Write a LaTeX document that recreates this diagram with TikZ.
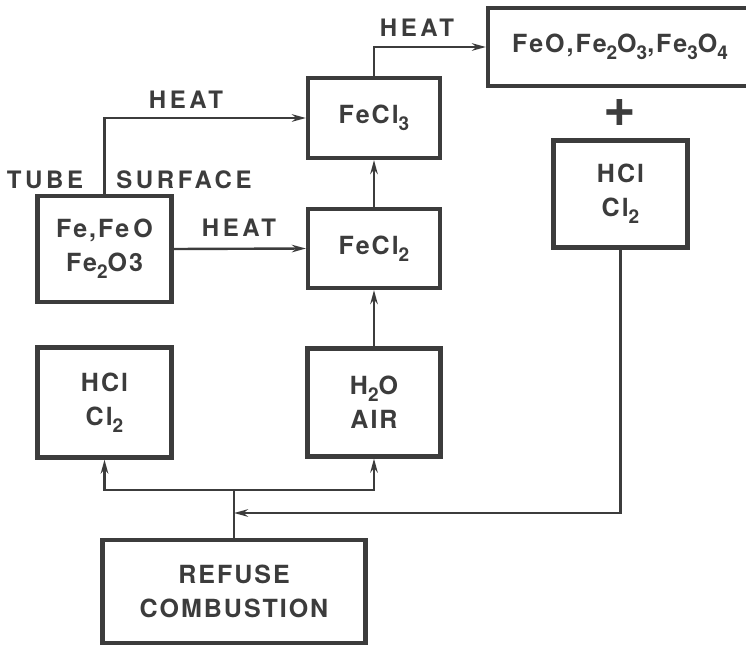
\documentclass[tikz,border=0pt]{standalone}
\usepackage{fontspec}
\setmainfont{TeX Gyre Heros}[LetterSpace=8]
\newfontfamily\lblfont{TeX Gyre Heros}[LetterSpace=15]
\usetikzlibrary{arrows.meta}
\definecolor{ink}{HTML}{3c3c3c}
\newcommand\lsub[1]{\raisebox{-0.5ex}{\fontsize{19}{19}\selectfont #1}}
\tikzset{
  box/.style={draw=ink, line width=4.2pt, text=ink, inner sep=0pt, align=center,
    font=\fontsize{25}{34}\selectfont\bfseries},
  lbl/.style={text=ink, inner sep=0pt, font=\lblfont\fontsize{24}{28}\selectfont\bfseries},
  conn/.style={draw=ink, line width=2.4pt, -{Stealth[length=14pt,width=7.5pt]}},
  plainline/.style={draw=ink, line width=2.4pt}
}
\begin{document}
\begin{tikzpicture}[x=1pt,y=-1pt]
\useasboundingbox (0,0) rectangle (746,645);
\clip (0,0) rectangle (746,645);
\fill[white] (0,0) rectangle (746,645);

\node[box, minimum width=134pt, minimum height=106pt] (tube) at (104.5,249) {Fe,Fe\,O\\Fe\lsub{2}O3};
\node[box, minimum width=132pt, minimum height=80pt] (fecl3) at (374,118) {FeCl\lsub{3}};
\node[box, minimum width=132pt, minimum height=79pt] (fecl2) at (374,248.5) {FeCl\lsub{2}};
\node[box, minimum width=264pt, minimum height=78pt] (oxid) at (620,47) {FeO,Fe\lsub{2}O\lsub{3},Fe\lsub{3}O\lsub{4}};
\node[box, minimum width=134pt, minimum height=107pt] (hclR) at (620.5,194) {HCl\\Cl\lsub{2}};
\node[box, minimum width=134pt, minimum height=110pt] (hclL) at (104.5,402.5) {HCl\\Cl\lsub{2}};
\node[box, minimum width=133pt, minimum height=108pt] (h2o) at (374,402.5) {H\lsub{2}O\\AIR};
\node[box, minimum width=263pt, minimum height=103pt] (refuse) at (234,591.5) {REFUSE\\COMBUSTION};

\node[lbl] (heatA) at (417,28) {HEAT};
\node[lbl] (heatB) at (186,100) {HEAT};
\node[lbl] (heatC) at (239,228) {HEAT};
\node[lbl] (tubel) at (45,180) {TUBE};
\node[lbl] (surfl) at (184,180) {SURFACE};
\node[text=ink, inner sep=0pt, font=\fontsize{56}{56}\selectfont\bfseries] (plus) at (620,113) {+};

\draw[conn] (fecl2.north) -- (fecl3.south);
\draw[conn] (h2o.north) -- (fecl2.south);
\draw[conn] (tube.east) -- (fecl2.west);
\draw[conn] (tube.north) |- (fecl3.west);
\draw[conn] (fecl3.north) |- (oxid.west);

\coordinate (j) at (234,490);
\coordinate (k) at (234,513);
\draw[plainline] (refuse.north) -- (j);
\draw[conn] (j) -| (hclL.south);
\draw[conn] (j) -| (h2o.south);
\draw[conn] (hclR.south) |- (k);
\end{tikzpicture}
\end{document}
